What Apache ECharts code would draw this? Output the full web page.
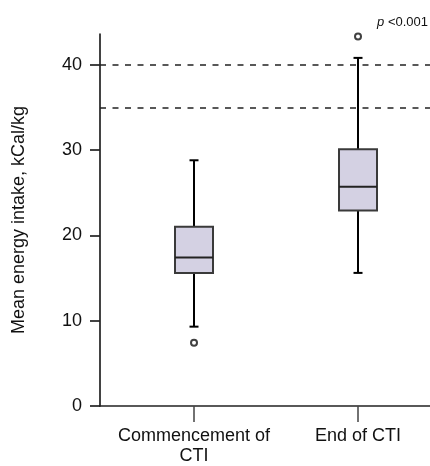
<!DOCTYPE html>
<html>
<head>
<meta charset="utf-8">
<script src="https://cdn.jsdelivr.net/npm/echarts@6/dist/echarts.min.js"></script>
<style>
  html, body { margin: 0; padding: 0; background: #fff; }
  #main { width: 430px; height: 466px; }
</style>
</head>
<body>
<div id="main"></div>
<script>
// categories and box statistics (min, Q1, median, Q3, max)
const categories = ['Commencement of\nCTI', 'End of CTI']
const catPos = [1, 2]
const boxStats = [
  [9.3, 15.6, 17.4, 21.0, 28.8],
  [15.6, 22.9, 25.7, 30.1, 40.8]
]
const outliers = [
  [1, 7.4],
  [2, 43.3]
]
const refLines = [40, 35]
const yTicks = [0, 10, 20, 30, 40]

const font = 'Liberation Sans, Arial, Helvetica, sans-serif'
const dark = '#111'

let myChart = echarts.init(document.getElementById('main'))

let boxData = boxStats.map((s, i) => [catPos[i]].concat(s))

function renderBox (params, api) {
  let x = api.value(0)
  let pMin = api.coord([x, api.value(1)])
  let pQ1 = api.coord([x, api.value(2)])
  let pMed = api.coord([x, api.value(3)])
  let pQ3 = api.coord([x, api.value(4)])
  let pMax = api.coord([x, api.value(5)])
  let half = 19
  let cap = 4.5
  let line = { stroke: '#000', lineWidth: 2 }
  return {
    type: 'group',
    children: [
      { type: 'line', shape: { x1: pMax[0], y1: pMax[1], x2: pQ3[0], y2: pQ3[1] }, style: line },
      { type: 'line', shape: { x1: pQ1[0], y1: pQ1[1], x2: pMin[0], y2: pMin[1] }, style: line },
      { type: 'line', shape: { x1: pMax[0] - cap, y1: pMax[1], x2: pMax[0] + cap, y2: pMax[1] }, style: line },
      { type: 'line', shape: { x1: pMin[0] - cap, y1: pMin[1], x2: pMin[0] + cap, y2: pMin[1] }, style: line },
      { type: 'rect', shape: { x: pQ3[0] - half, y: pQ3[1], width: half * 2, height: pQ1[1] - pQ3[1] },
        style: { fill: '#d4d1e3', stroke: '#3a3a3a', lineWidth: 2 } },
      { type: 'line', shape: { x1: pMed[0] - half, y1: pMed[1], x2: pMed[0] + half, y2: pMed[1] }, style: { stroke: '#222', lineWidth: 2 } }
    ]
  }
}

let options = {
  animation: false,
  textStyle: { fontFamily: font },
  title: {
    text: '{i|p} <0.001',
    right: -3,
    top: 11,
    textStyle: {
      fontFamily: font,
      fontSize: 13,
      fontWeight: 'normal',
      color: dark,
      rich: { i: { fontStyle: 'italic', fontSize: 13, fontFamily: font, color: dark } }
    }
  },
  grid: { left: 100, right: 0, top: 34, bottom: 57 },
  xAxis: {
    type: 'value',
    min: 0.4268,
    max: 2.439,
    splitLine: { show: false },
    axisLine: { show: true, onZero: false, lineStyle: { color: '#222', width: 1.7 } },
    axisTick: { show: true, customValues: catPos, length: 16, lineStyle: { color: '#444', width: 1.5 } },
    axisLabel: {
      customValues: catPos,
      margin: 20,
      fontSize: 18,
      color: dark,
      lineHeight: 20,
      formatter: (v) => categories[Math.round(v) - 1] || ''
    }
  },
  yAxis: {
    type: 'value',
    min: 0,
    max: 43.6,
    name: 'Mean energy intake, kCal/kg',
    nameLocation: 'middle',
    nameGap: 72,
    nameRotate: 90,
    nameTextStyle: { fontSize: 18, color: dark, fontFamily: font },
    splitLine: { show: false },
    axisLine: { show: true, lineStyle: { color: '#222', width: 1.7 } },
    axisTick: { show: true, customValues: yTicks, length: 10, lineStyle: { color: '#222', width: 1.7 } },
    axisLabel: { customValues: yTicks, margin: 18, fontSize: 18, color: dark }
  },
  series: [
    {
      name: 'box',
      type: 'custom',
      renderItem: renderBox,
      encode: { x: 0, y: [1, 2, 3, 4, 5] },
      data: boxData,
      z: 3,
      markLine: {
        silent: true,
        symbol: 'none',
        label: { show: false },
        lineStyle: { color: '#222', type: [6, 6.5], width: 1.5 },
        data: refLines.map(v => ({ yAxis: v }))
      }
    },
    {
      name: 'outlier',
      type: 'scatter',
      symbol: 'emptyCircle',
      symbolSize: 6,
      itemStyle: { color: dark, borderColor: dark, borderWidth: 1.4 },
      data: outliers,
      z: 4
    }
  ]
}
myChart.setOption(options)
</script>
</body>
</html>
